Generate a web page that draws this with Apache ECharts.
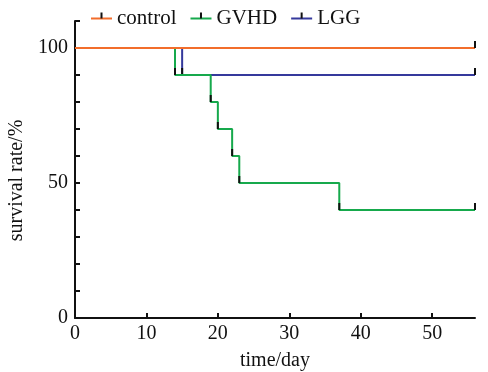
<!DOCTYPE html>
<html>
<head>
<meta charset="utf-8">
<script src="https://cdn.jsdelivr.net/npm/echarts@6/dist/echarts.min.js"></script>
<style>
  html, body { margin: 0; padding: 0; background: #fff; }
  #chart { width: 488px; height: 372px; }
</style>
</head>
<body>
<div id="chart"></div>
<script>
// survival steps: [day, survival %]
const controlData = [[0, 100], [56, 100]];
const gvhdData = [[0, 100], [14, 90], [19, 80], [20, 70], [22, 60], [23, 50], [37, 40], [56, 40]];
const lggData = [[0, 100], [15, 90], [56, 90]];

const seriesNames = ['control', 'GVHD', 'LGG'];
const seriesColors = ['#f26d2b', '#16a94c', '#35399c'];

const xTicks = [0, 10, 20, 30, 40, 50];
const yTicks = [0, 10, 20, 30, 40, 50, 60, 70, 80, 90, 100, 110];
const yLabels = [0, 50, 100];

const font = 'Liberation Serif';
// censor tick: thin bar standing on the point (top half of a padded box)
const tickSymbol = 'path://M2.5,0 L3.5,0 L3.5,5 L2.5,5 Z M0,10 L0.01,10 Z M6,10 L5.99,10 Z';

// first point has no censor mark
const withMarks = (arr) => arr.map((d, i) => (i === 0 ? { value: d, symbol: 'none' } : d));

const chart = echarts.init(document.getElementById('chart'));

const makeSeries = (name, data, color, z) => ({
  name,
  type: 'line',
  step: 'end',
  data: withMarks(data),
  z,
  symbol: tickSymbol,
  symbolSize: [12, 14],
  showAllSymbol: true,
  itemStyle: { color: '#111' },
  lineStyle: { color, width: 2 },
  emphasis: { disabled: true },
  animation: false,
});

chart.setOption({
  backgroundColor: '#fff',
  textStyle: { fontFamily: font },
  legend: {
    top: 3,
    left: 85,
    itemWidth: 21,
    itemHeight: 15,
    itemGap: 13,
    textStyle: { fontFamily: font, fontSize: 21, color: '#111' },
    data: seriesNames,
  },
  grid: { left: 75, right: 13, top: 21, bottom: 54, outerBoundsMode: 'none', containLabel: false },
  xAxis: {
    type: 'value',
    min: 0,
    max: 56,
    name: 'time/day',
    nameLocation: 'middle',
    nameGap: 33,
    nameTextStyle: { fontFamily: font, fontSize: 20, color: '#111' },
    axisLine: { lineStyle: { color: '#111', width: 2 } },
    axisTick: { inside: true, length: 5, customValues: xTicks, lineStyle: { color: '#111', width: 2 } },
    axisLabel: { fontFamily: font, fontSize: 20, color: '#111', margin: 6, customValues: xTicks },
    splitLine: { show: false },
  },
  yAxis: {
    type: 'value',
    min: 0,
    max: 110,
    name: 'survival rate/%',
    nameLocation: 'middle',
    nameGap: 45,
    nameTextStyle: { fontFamily: font, fontSize: 20, color: '#111', padding: [0, 22, 0, 0] },
    axisLine: { show: true, lineStyle: { color: '#111', width: 2 } },
    axisTick: { show: true, inside: true, length: 5, customValues: yTicks, lineStyle: { color: '#111', width: 2 } },
    axisLabel: { fontFamily: font, fontSize: 20, color: '#111', margin: 7, customValues: yLabels },
    splitLine: { show: false },
  },
  series: [
    makeSeries('control', controlData, seriesColors[0], 5),
    makeSeries('GVHD', gvhdData, seriesColors[1], 4),
    makeSeries('LGG', lggData, seriesColors[2], 3),
  ],
});
</script>
</body>
</html>
